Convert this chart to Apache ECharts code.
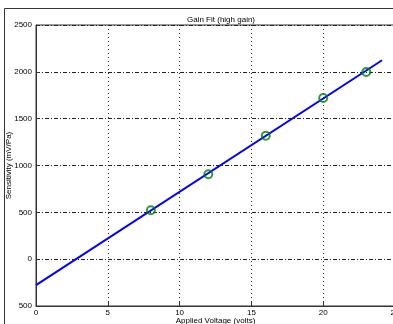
<!DOCTYPE html>
<html>
<head>
<meta charset="utf-8">
<script src="https://cdn.jsdelivr.net/npm/echarts@6/dist/echarts.min.js"></script>
<style>
  html, body { margin: 0; padding: 0; background: #fff; }
  #chart { width: 393px; height: 324px; }
</style>
</head>
<body>
<div id="chart"></div>
<script>
  // measured points (volts, mV/Pa)
  const voltage = [8, 12, 16, 20, 23];
  const sensitivity = [522, 906, 1318, 1720, 1998];
  // fitted line end points
  const fitVoltage = [0, 24.1];
  const fitSensitivity = [-277, 2124];
  // tick labels as shown in the picture
  const yTickLabels = { "-500": "500", "0": "0", "500": "500", "1000": "1000", "1500": "1500", "2000": "2000", "2500": "2500" };

  const chart = echarts.init(document.getElementById("chart"));
  const font = "Liberation Sans, Arial, sans-serif";

  const option = {
    animation: false,
    backgroundColor: "#fff",
    title: {
      text: "Gain Fit (high gain)",
      left: 182,
      top: 11,
      textStyle: { fontSize: 8, fontWeight: "normal", color: "#000", fontFamily: font }
    },
    graphic: [
      {
        type: "polyline",
        shape: { points: [[4.5, 324], [4.5, 8.5], [393, 8.5]] },
        style: { stroke: "#333", lineWidth: 1, fill: null },
        silent: true
      }
    ],
    grid: {
      left: 36, top: 25, right: -2, bottom: 18,
      outerBoundsMode: "none",
      containLabel: false,
      show: true, borderColor: "#333", borderWidth: 1
    },
    xAxis: {
      type: "value",
      min: 0, max: 25, interval: 5,
      name: "Applied Voltage (volts)",
      nameLocation: "middle",
      nameGap: 11,
      nameMoveOverlap: false,
      nameTextStyle: { fontSize: 8, color: "#000", fontFamily: font, verticalAlign: "top" },
      axisLine: { onZero: false, lineStyle: { color: "#333" } },
      axisTick: { inside: true, length: 4, lineStyle: { color: "#333" } },
      axisLabel: { fontSize: 8, color: "#000", margin: 3, fontFamily: font },
      splitLine: { show: true, lineStyle: { color: "#222", type: [1, 3], width: 1 } }
    },
    yAxis: {
      type: "value",
      min: -500, max: 2500, interval: 500,
      name: "Sensitivity (mV/Pa)",
      nameLocation: "middle",
      nameGap: 27,
      nameMoveOverlap: false,
      nameTextStyle: { fontSize: 8, color: "#000", fontFamily: font, verticalAlign: "middle" },
      axisLine: { show: true, onZero: false, lineStyle: { color: "#333" } },
      axisTick: { show: true, inside: true, length: 4, lineStyle: { color: "#333" } },
      axisLabel: {
        fontSize: 8, color: "#000", margin: 4, fontFamily: font,
        formatter: v => yTickLabels[String(v)] ?? String(v)
      },
      splitLine: { show: true, lineStyle: { color: "#222", type: [4, 2, 1, 2], width: 1 } }
    },
    series: [
      {
        type: "line",
        data: fitVoltage.map((v, i) => [v, fitSensitivity[i]]),
        showSymbol: false,
        lineStyle: { color: "#0000ff", width: 2 },
        z: 2
      },
      {
        type: "scatter",
        data: voltage.map((v, i) => [v, sensitivity[i]]),
        symbol: "circle",
        symbolSize: 8,
        itemStyle: { color: "transparent", borderColor: "#008000", borderWidth: 2 },
        z: 3
      }
    ]
  };

  chart.setOption(option);
</script>
</body>
</html>
